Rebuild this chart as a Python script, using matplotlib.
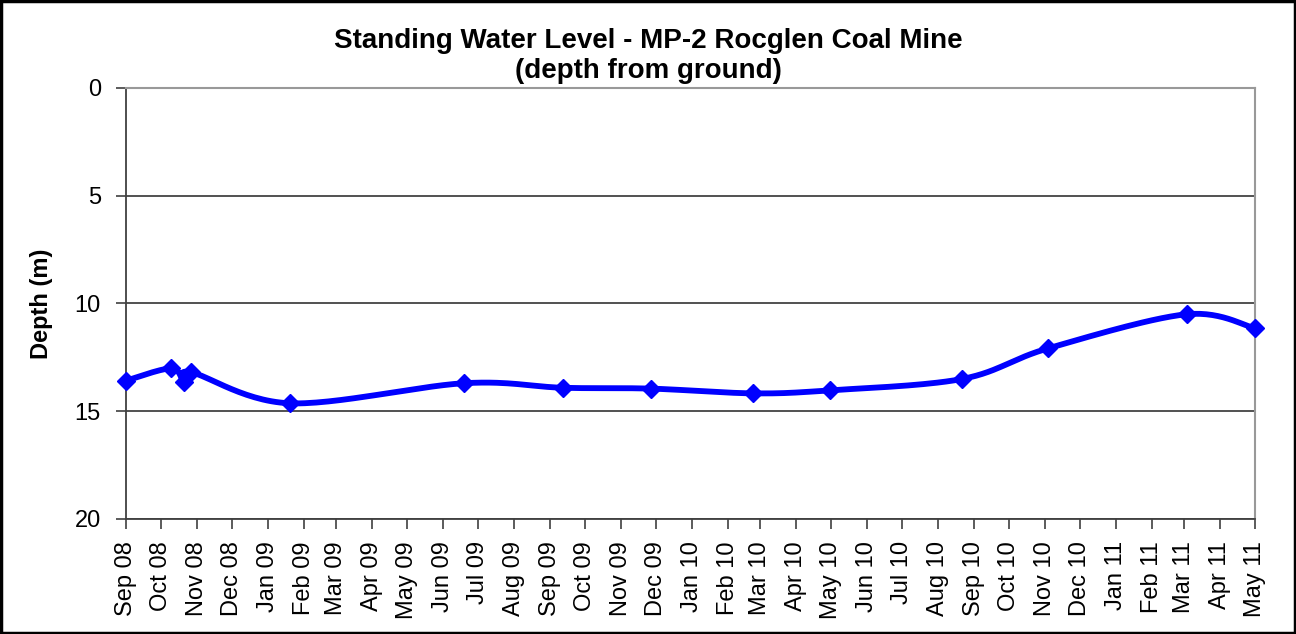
import matplotlib
matplotlib.use("Agg")
import matplotlib.pyplot as plt
import matplotlib.dates as mdates
import numpy as np
from datetime import datetime

plt.rcParams['font.family'] = ['Liberation Sans', 'DejaVu Sans']

# readings: sample date and depth from ground (m)
dates = ["2008-09-01", "2008-10-10", "2008-10-21", "2008-10-27", "2009-01-20",
         "2009-06-19", "2009-09-12", "2009-11-27", "2010-02-23", "2010-04-30",
         "2010-08-22", "2010-11-04", "2011-03-03", "2011-05-01"]
depth = [13.58, 13.01, 13.63, 13.19, 14.63,
         13.70, 13.91, 13.95, 14.17, 14.03,
         13.50, 12.08, 10.50, 11.15]


def smooth_line(x, y, n=30):
    # excel style smoothed line (catmull-rom bezier through the points)
    x = np.asarray(x, float)
    y = np.asarray(y, float)
    px = np.concatenate([[x[0]], x, [x[-1]]])
    py = np.concatenate([[y[0]], y, [y[-1]]])
    xs, ys = [], []
    t = np.linspace(0, 1, n)
    for i in range(1, len(px) - 2):
        p0 = np.array([px[i], py[i]])
        p3 = np.array([px[i + 1], py[i + 1]])
        c1 = p0 + (np.array([px[i + 1], py[i + 1]]) - np.array([px[i - 1], py[i - 1]])) / 6
        c2 = p3 - (np.array([px[i + 2], py[i + 2]]) - np.array([px[i], py[i]])) / 6
        b = ((1 - t) ** 3)[:, None] * p0 + (3 * (1 - t) ** 2 * t)[:, None] * c1 \
            + (3 * (1 - t) * t ** 2)[:, None] * c2 + (t ** 3)[:, None] * p3
        xs.extend(b[:, 0])
        ys.extend(b[:, 1])
    return np.array(xs), np.array(ys)


xd = mdates.date2num([datetime.strptime(d, "%Y-%m-%d") for d in dates])

fig = plt.figure(figsize=(12.96, 6.34), dpi=100)
ax = fig.add_axes([0.0972, 0.1814, 0.8712, 0.6798])

sx, sy = smooth_line(xd, depth)
ax.plot(sx, sy, color='#0000FF', lw=4.2, solid_capstyle='round', zorder=3, clip_on=False)
ax.plot(xd, depth, ls='none', marker='D', ms=9.5, color='#0000FF', zorder=4, clip_on=False)

ax.set_ylim(20, 0)
ax.set_yticks([0, 5, 10, 15, 20])
ax.set_xlim(mdates.date2num(datetime(2008, 9, 1)), mdates.date2num(datetime(2011, 5, 1)))
ax.xaxis.set_major_locator(mdates.MonthLocator())
ax.xaxis.set_major_formatter(mdates.DateFormatter('%b %y'))
plt.setp(ax.get_xticklabels(), rotation=90)

ax.grid(axis='y', color='#333333', lw=1.2)
ax.set_axisbelow(True)
for s in ['top', 'right']:
    ax.spines[s].set_color('#999999')
    ax.spines[s].set_linewidth(1.5)
for s in ['left', 'bottom']:
    ax.spines[s].set_color('#404040')
    ax.spines[s].set_linewidth(1.3)
ax.tick_params(axis='both', direction='out', length=7, width=1.2, color='#404040')
ax.tick_params(axis='y', labelsize=17, pad=11)
ax.tick_params(axis='x', labelsize=17, pad=9)

ax.set_ylabel('Depth (m)', fontsize=17, fontweight='bold')
ax.yaxis.set_label_coords(-0.065, 0.5)
fig.text(0.5, 0.912, 'Standing Water Level - MP-2 Rocglen Coal Mine\n(depth from ground)',
         ha='center', va='center', fontsize=20, fontweight='bold', linespacing=1.2)

fig.patches.append(plt.Rectangle((0.001, 0.001), 0.998, 0.997, transform=fig.transFigure,
                                 fill=False, edgecolor='black', lw=2.5))

fig.savefig('out.png', dpi=100)
